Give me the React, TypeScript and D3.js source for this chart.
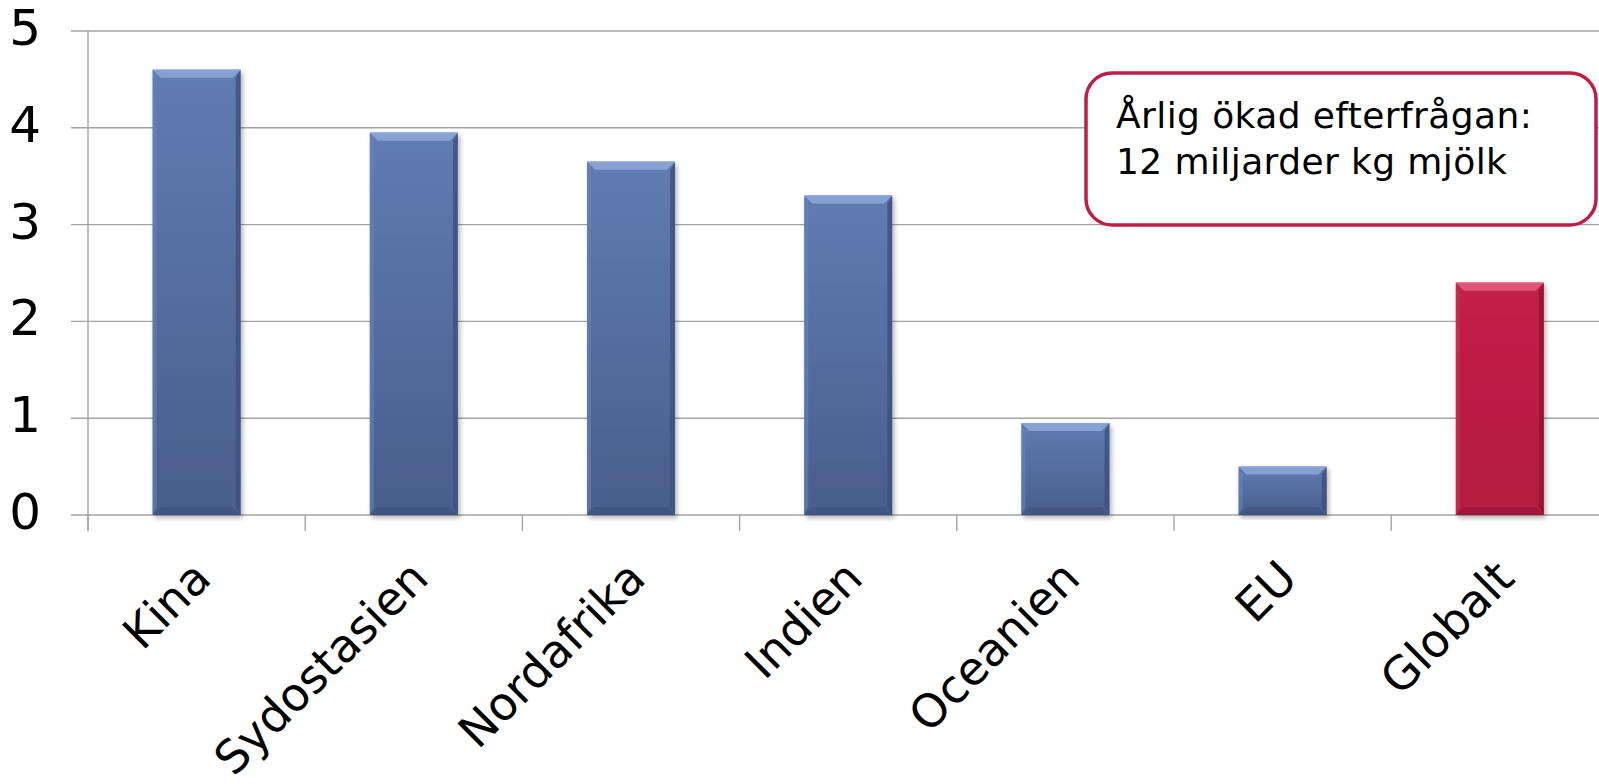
import React from "react";
import * as d3 from "d3";

const categories = ["Kina", "Sydostasien", "Nordafrika", "Indien", "Oceanien", "EU", "Globalt"];
const values = [4.6, 3.95, 3.65, 3.3, 0.95, 0.5, 2.4];
const highlighted = ["Globalt"];
const yTicks = [0, 1, 2, 3, 4, 5];
const noteLines = ["Årlig ökad efterfrågan:", "12 miljarder kg mjölk"];

const W = 1599;
const H = 784;
const FONT = "'DejaVu Sans', Verdana, sans-serif";

export default function App() {
  const x = d3
    .scaleBand<string>()
    .domain(categories)
    .range([88, 88 + 7 * 217.2])
    .paddingInner(0.595)
    .paddingOuter(0.2975);
  const y = d3.scaleLinear().domain([0, 5]).range([515, 31]);
  const bw = x.bandwidth();
  const bev = 8;
  const step = x.step();
  const boundaries = d3.range(categories.length + 1).map((i) => 88 + i * step);

  const palette = (cat: string) =>
    highlighted.includes(cat)
      ? { bevTop: "#E4587A", right: "#8C1431", left: "#C93355", bot: "#93173A", id: "r" }
      : { bevTop: "#8DA5D8", right: "#3D4F7E", left: "#6683B8", bot: "#3F5181", id: "b" };

  return (
    <svg
      width={W}
      height={H}
      style={{ position: "absolute", left: 0, top: 0, background: "#fff" }}
      fontFamily={FONT}
    >
      <defs>
        <linearGradient id="g-b" x1="0" y1="0" x2="0" y2="1">
          <stop offset="0" stopColor="#607CB2" />
          <stop offset="1" stopColor="#495D8B" />
        </linearGradient>
        <linearGradient id="g-r" x1="0" y1="0" x2="0" y2="1">
          <stop offset="0" stopColor="#C22048" />
          <stop offset="1" stopColor="#B51B41" />
        </linearGradient>
        <filter id="shadow" x="-20%" y="-5%" width="140%" height="115%">
          <feDropShadow dx="2" dy="3" stdDeviation="2.5" floodColor="#000" floodOpacity="0.3" />
        </filter>
      </defs>

      {/* gridlines */}
      {yTicks.map((t) => (
        <line key={t} x1={71} x2={W} y1={y(t)} y2={y(t)} stroke="#A3A3A3" strokeWidth={1.4} />
      ))}
      {/* y axis */}
      <line x1={88} x2={88} y1={y(5)} y2={531} stroke="#A3A3A3" strokeWidth={1.4} />
      {/* category ticks */}
      {boundaries.map((b, i) => (
        <line key={i} x1={b} x2={b} y1={y(0)} y2={531} stroke="#A3A3A3" strokeWidth={1.4} />
      ))}

      {/* y tick labels */}
      {yTicks.map((t) => (
        <text key={t} x={41} y={y(t)} dy="0.28em" textAnchor="end" fontSize={50} fill="#000">
          {t}
        </text>
      ))}

      {/* bars */}
      {categories.map((c, i) => {
        const p = palette(c);
        const x0 = x(c)!;
        const x1 = x0 + bw;
        const y0 = y(values[i]);
        const y1 = y(0);
        return (
          <g key={c} filter="url(#shadow)">
            <rect x={x0} y={y0} width={bw} height={y1 - y0} fill={`url(#g-${p.id})`} />
            <polygon points={`${x0},${y0} ${x1},${y0} ${x1 - bev},${y0 + bev} ${x0 + bev},${y0 + bev}`} fill={p.bevTop} opacity={0.9} />
            <polygon points={`${x0},${y0} ${x0 + bev * 0.5},${y0 + bev} ${x0 + bev * 0.5},${y1 - bev} ${x0},${y1}`} fill={p.left} opacity={0.6} />
            <polygon points={`${x1},${y0} ${x1 - bev * 0.6},${y0 + bev} ${x1 - bev * 0.6},${y1 - bev} ${x1},${y1}`} fill={p.right} opacity={0.8} />
            <polygon points={`${x0},${y1} ${x0 + bev},${y1 - bev} ${x1 - bev},${y1 - bev} ${x1},${y1}`} fill={p.bot} opacity={0.6} />
            <line x1={x0} x2={x1} y1={y0 + 0.5} y2={y0 + 0.5} stroke={p.bevTop} strokeWidth={1} />
          </g>
        );
      })}

      {/* category labels */}
      {categories.map((c) => {
        const cx = x(c)! + bw / 2;
        return (
          <text
            key={c}
            transform={`translate(${cx + 5},569) rotate(-45)`}
            textAnchor="end"
            dy="0.36em"
            fontSize={46}
            fill="#000"
          >
            {c}
          </text>
        );
      })}

      {/* annotation box */}
      <rect x={1086} y={73} width={510} height={152} rx={26} ry={26} fill="#fff" stroke="#BE1E45" strokeWidth={3.5} />
      {noteLines.map((l, i) => (
        <text key={i} x={1116} y={128 + i * 46} fontSize={36} letterSpacing={0.4} fill="#000">
          {l}
        </text>
      ))}
    </svg>
  );
}
